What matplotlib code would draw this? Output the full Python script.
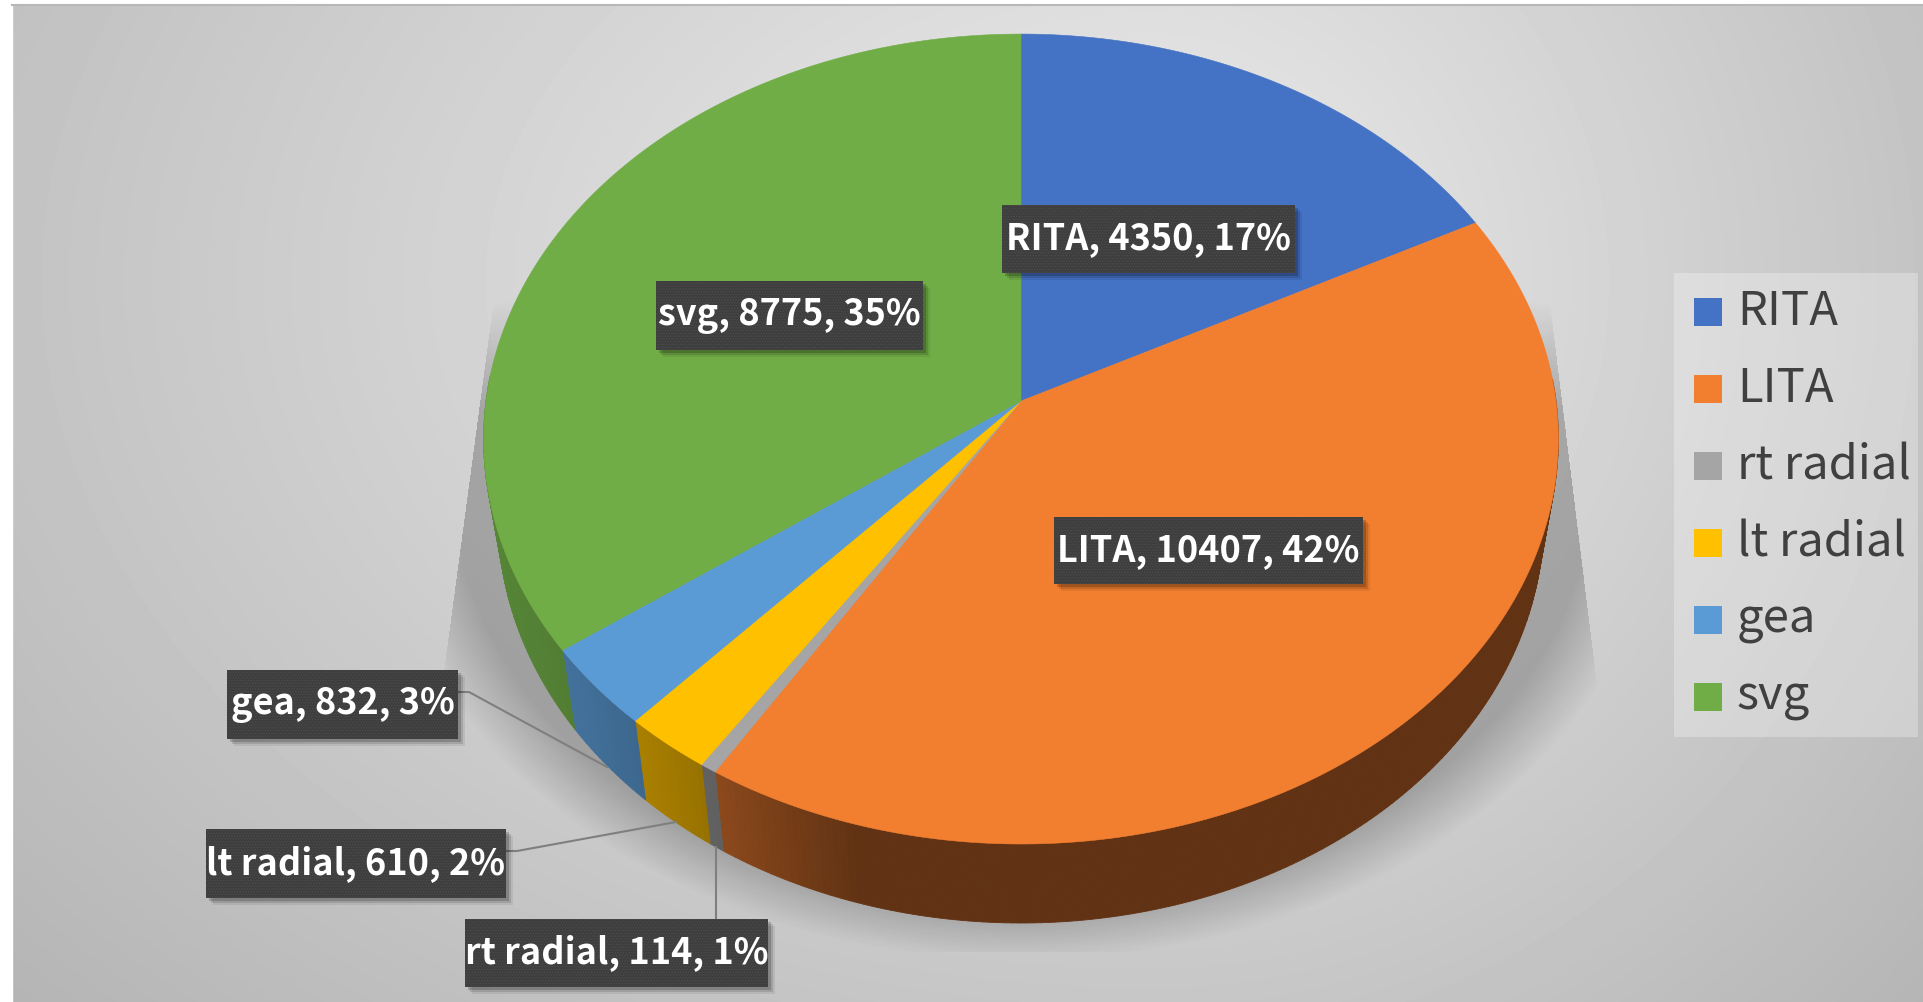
import numpy as np
import matplotlib.pyplot as plt
from matplotlib.colors import to_rgb
from matplotlib.patches import Rectangle

plt.rcParams['font.family'] = ['Noto Sans CJK JP', 'DejaVu Sans']
plt.rcParams['hatch.linewidth'] = 0.6

categories = ['RITA', 'LITA', 'rt radial', 'lt radial', 'gea', 'svg']
values = [4350, 10407, 114, 610, 832, 8775]
percents = ['17%', '42%', '1%', '2%', '3%', '35%']
colors = ['#4472c4', '#f27e30', '#a5a5a5', '#ffc000', '#5b9bd5', '#70ad47']

W = 1924; H = 1002

# label boxes in pixels: x0, x1, y0, y1
boxes = [(1002, 1295, 205, 273), (1054, 1363, 517, 584), (465, 768, 919, 987),
         (206, 506, 829, 898), (227, 458, 670, 739), (656, 923, 281, 350)]

# leader lines for the three small slices
leaders = {2: [(716, 919), (716, 847)],
           3: [(506, 851), (517, 851), (676, 822)],
           4: [(458, 692), (469, 692), (607, 767)]}

# perspective view of the unit circle, apex of the pie is not the ellipse centre
cx = 1021; cy = 401; fx = 535; fy = 401.4; k = 0.0939
depth = 79; shrink = 0.973

def project(t):
    X = np.sin(t); Y = np.cos(t)
    d = 1 + k * Y
    return cx + fx * X / d, cy - fy * Y / d

def wall_shade(x):
    return np.interp(x, [480, 590, 670, 720, 860], [0.78, 0.72, 0.64, 0.58, 0.40])

fig = plt.figure(figsize=(W / 100, H / 100), dpi=100)
ax = fig.add_axes([0, 0, 1, 1])
ax.set_xlim(0, W); ax.set_ylim(H, 0)
ax.axis('off')

# background
xx, yy = np.meshgrid(np.arange(W), np.arange(H))
rx = np.where(xx > 1150, 1000, 1450)
dist = np.sqrt(((xx - 1150) / rx) ** 2 + ((yy - 280) / 1000) ** 2)
bg = np.clip(236 - 52 * dist, 180, 240) / 255
ax.imshow(bg, cmap='gray', vmin=0, vmax=1, extent=(0, W, H, 0), aspect='auto', zorder=0)
ax.add_patch(Rectangle((0, 0), 12, H, color='white', zorder=1))
ax.add_patch(Rectangle((0, 0), W, 4, color='white', zorder=1))
ax.plot([12, W], [4.5, 4.5], color='#b8b8b8', lw=1.5, zorder=1)

# soft shadow under the pie
r = np.sqrt(((xx - 1021) / 640) ** 2 + ((yy - 480) / 480) ** 2)
sh = 0.22 * np.clip((1 - r) / 0.11, 0, 1) * np.clip((yy - 300) / 110, 0, 1)
left_edge = 490 + (yy - 325) * (448 - 490) / (638 - 325)
right_edge = 1556 + (yy - 356) * (1593 - 1556) / (656 - 356)
sh[(xx < left_edge) | (xx > right_edge) | (yy > 951)] = 0
rgba = np.zeros((H, W, 4)); rgba[..., 3] = sh
ax.imshow(rgba, extent=(0, W, H, 0), aspect='auto', zorder=2)
ax.set_xlim(0, W); ax.set_ylim(H, 0)

total = sum(values)
edges = np.concatenate([[0], np.cumsum(values)]) / total * 2 * np.pi

# side wall, short strips so the shade can change along the rim
for i in range(len(values)):
    ts = np.linspace(edges[i], edges[i + 1], max(int((edges[i + 1] - edges[i]) * 80), 2) + 1)
    px, py = project(ts)
    bx = cx + shrink * (px - cx)
    by = py + depth
    base = np.array(to_rgb(colors[i]))
    for j in range(len(ts) - 1):
        if py[j] < 380 and py[j + 1] < 380:
            continue
        c = base * wall_shade((bx[j] + bx[j + 1]) / 2)
        ax.fill([px[j], px[j + 1], bx[j + 1], bx[j]], [py[j], py[j + 1], by[j + 1], by[j]],
                color=c, lw=0.6, zorder=3)

# top face
for i in range(len(values)):
    ts = np.linspace(edges[i], edges[i + 1], 200)
    px, py = project(ts)
    ax.fill(np.r_[cx, px], np.r_[cy, py], color=colors[i], lw=0.4, zorder=4)

# leaders
for i, pts in leaders.items():
    ax.plot([p[0] for p in pts], [p[1] for p in pts], color='#7f7f7f', lw=1.5, zorder=5)

# data labels
for i in range(len(values)):
    x0, x1, y0, y1 = boxes[i]
    for off, a in ((7, 0.07), (5, 0.12), (3, 0.18)):
        ax.add_patch(Rectangle((x0 + off, y0 + off), x1 - x0, y1 - y0, fc='black', ec='none', alpha=a, zorder=6))
    ax.add_patch(Rectangle((x0, y0), x1 - x0, y1 - y0, fc='#3e3e3e', ec='#4c4c4c', hatch='......', lw=0, zorder=7))
    ax.text((x0 + x1) / 2, (y0 + y1) / 2, '%s, %d, %s' % (categories[i], values[i], percents[i]),
            color='white', fontsize=26, fontweight='bold', ha='center', va='center', zorder=8)

# legend
ax.add_patch(Rectangle((1674, 273), 244, 464, fc='white', ec='none', alpha=0.28, zorder=3))
for i in range(len(categories)):
    y = 298 + 77 * i
    ax.add_patch(Rectangle((1694, y), 28, 28, fc=colors[i], ec='none', zorder=4))
    ax.text(1737, y + 14, categories[i], color='#404040', fontsize=34, ha='left', va='center', zorder=4)

fig.savefig('out.png', dpi=100)
